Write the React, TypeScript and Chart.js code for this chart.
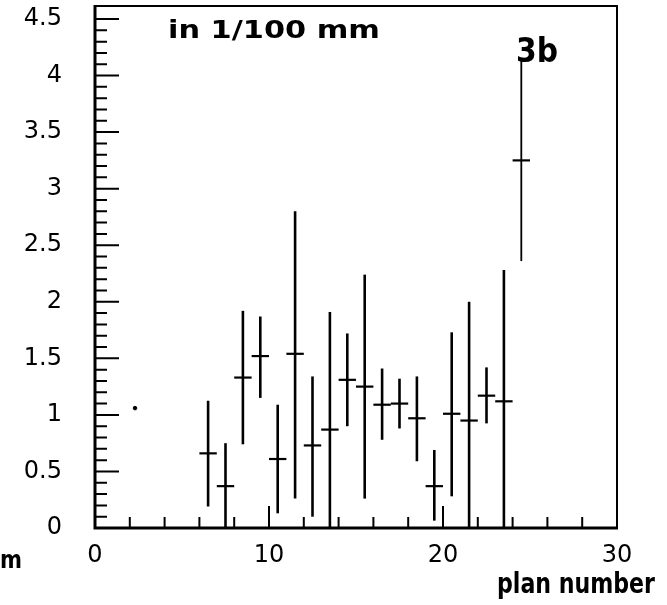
import React, { useEffect, useRef } from "react";
import { Chart, registerables } from "chart.js";

Chart.register(...registerables);

// ---- data ----
const PLAN = [6.5, 7.5, 8.5, 9.5, 10.5, 11.5, 12.5, 13.5, 14.5, 15.5, 16.5, 17.5, 18.5, 19.5, 20.5, 21.5, 22.5, 23.5, 24.5];
const VALUE = [0.66, 0.37, 1.33, 1.52, 0.61, 1.54, 0.73, 0.87, 1.31, 1.25, 1.09, 1.1, 0.97, 0.37, 1.01, 0.95, 1.17, 1.12, 3.25];
const LOW = [0.19, 0.0, 0.74, 1.15, 0.13, 0.26, 0.1, 0.0, 0.9, 0.26, 0.78, 0.88, 0.59, 0.065, 0.28, 0.0, 0.925, 0.0, 2.36];
const HIGH = [1.125, 0.75, 1.92, 1.87, 1.09, 2.8, 1.34, 1.91, 1.72, 2.24, 1.41, 1.32, 1.34, 0.69, 1.73, 2.0, 1.42, 2.28, 4.14];
const BIN_HALF = 0.5;
const SPECK_X = [2.3];
const SPECK_Y = [1.06];

const X_TICKS = [0, 10, 20, 30];
const X_MINOR = [2, 4, 6, 8, 12, 14, 16, 18, 22, 24, 26, 28];
const Y_TICKS = [0, 0.5, 1, 1.5, 2, 2.5, 3, 3.5, 4, 4.5];
const Y_MINOR = [0.1, 0.2, 0.3, 0.4, 0.6, 0.7, 0.8, 0.9, 1.1, 1.2, 1.3, 1.4, 1.6, 1.7, 1.8, 1.9, 2.1, 2.2, 2.3, 2.4, 2.6, 2.7, 2.8, 2.9, 3.1, 3.2, 3.3, 3.4, 3.6, 3.7, 3.8, 3.9, 4.1, 4.2, 4.3, 4.4];
const X_MIN = 0;
const X_MAX = 30;
const Y_MIN = 0;
const Y_MAX = 4.615;

const HAND = "'DejaVu Sans', sans-serif";

function fitText(ctx: CanvasRenderingContext2D, text: string, font: string, left: number, baseline: number, width: number) {
  ctx.save();
  ctx.font = font;
  ctx.textAlign = "left";
  ctx.textBaseline = "alphabetic";
  const w = ctx.measureText(text).width;
  ctx.translate(left, baseline);
  ctx.scale(width / w, 1);
  ctx.fillText(text, 0, 0);
  ctx.restore();
}

const framePlugin = {
  id: "frameAndBars",
  afterDatasetsDraw(chart: any) {
    const ctx: CanvasRenderingContext2D = chart.ctx;
    const xs = chart.scales.x;
    const ys = chart.scales.y;
    const { left, right, top, bottom } = chart.chartArea;
    ctx.save();
    ctx.strokeStyle = "#000";
    ctx.fillStyle = "#000";
    ctx.lineCap = "butt";

    // error bars
    for (let i = 0; i < PLAN.length; i++) {
      const cx = xs.getPixelForValue(PLAN[i]);
      const x0 = xs.getPixelForValue(PLAN[i] - BIN_HALF);
      const x1 = xs.getPixelForValue(PLAN[i] + BIN_HALF);
      const cy = ys.getPixelForValue(VALUE[i]);
      ctx.lineWidth = i === PLAN.length - 1 ? 1.8 : 2.6;
      ctx.beginPath();
      ctx.moveTo(cx, ys.getPixelForValue(LOW[i]));
      ctx.lineTo(cx, ys.getPixelForValue(HIGH[i]));
      ctx.stroke();
      ctx.lineWidth = 2.2;
      ctx.beginPath();
      ctx.moveTo(x0, cy);
      ctx.lineTo(x1, cy);
      ctx.stroke();
    }

    // frame
    ctx.lineWidth = 2;
    ctx.beginPath();
    ctx.moveTo(left, top);
    ctx.lineTo(right, top);
    ctx.lineTo(right, bottom);
    ctx.stroke();
    ctx.lineWidth = 3;
    ctx.beginPath();
    ctx.moveTo(left, top - 1);
    ctx.lineTo(left, bottom);
    ctx.lineTo(right + 1, bottom);
    ctx.stroke();

    // inward ticks
    ctx.lineWidth = 2;
    ctx.beginPath();
    for (const v of Y_TICKS) {
      const y = ys.getPixelForValue(v);
      ctx.moveTo(left, y);
      ctx.lineTo(left + 24, y);
    }
    for (const v of Y_MINOR) {
      const y = ys.getPixelForValue(v);
      ctx.moveTo(left, y);
      ctx.lineTo(left + 12, y);
    }
    for (const v of X_TICKS) {
      if (v === X_MIN || v === X_MAX) continue;
      const x = xs.getPixelForValue(v);
      ctx.moveTo(x, bottom);
      ctx.lineTo(x, bottom - 22);
    }
    for (const v of X_MINOR) {
      const x = xs.getPixelForValue(v);
      ctx.moveTo(x, bottom);
      ctx.lineTo(x, bottom - 11);
    }
    ctx.stroke();

    // handwritten annotations
    fitText(ctx, "in 1/100 mm", `bold 24px ${HAND}`, left + 73, top + 32, 212);
    fitText(ctx, "3b", `bold 34px ${HAND}`, left + 421, top + 56, 42);
    fitText(ctx, "plan number", `bold 28px ${HAND}`, 497, 593, 158);
    fitText(ctx, "m", `bold 24px ${HAND}`, 0, 568, 22);
    ctx.restore();
  },
};

export default function App() {
  const ref = useRef<HTMLCanvasElement | null>(null);
  useEffect(() => {
    if (!ref.current) return;
    const tickFont = { family: "'DejaVu Sans', sans-serif", size: 24 };
    const hiddenGrid = (len: number) => ({
      display: true,
      drawOnChartArea: false,
      drawTicks: true,
      tickLength: len,
      color: "rgba(0,0,0,0)",
    });
    const chart = new Chart(ref.current, {
      type: "scatter",
      data: {
        datasets: [
          {
            label: "sigma",
            data: PLAN.map((x, i) => ({ x, y: VALUE[i] })),
            pointRadius: 0,
            showLine: false,
          },
          {
            label: "speck",
            data: SPECK_X.map((x, i) => ({ x, y: SPECK_Y[i] })),
            pointRadius: 1.8,
            backgroundColor: "#000",
            borderColor: "#000",
            showLine: false,
          },
        ],
      },
      options: {
        animation: false,
        responsive: false,
        maintainAspectRatio: false,
        layout: { padding: { top: 6, right: 50, left: 0, bottom: 0 } },
        plugins: { legend: { display: false }, tooltip: { enabled: false } },
        scales: {
          x: {
            type: "linear",
            min: X_MIN,
            max: X_MAX,
            grid: hiddenGrid(13),
            border: { display: false },
            afterBuildTicks: (s: any) => {
              s.ticks = X_TICKS.map((v) => ({ value: v }));
            },
            afterFit: (s: any) => {
              s.height = 77;
              s.paddingLeft = 0;
              s.paddingRight = 0;
            },
            ticks: { color: "#000", font: tickFont, padding: 0, maxRotation: 0, autoSkip: false, callback: (v: any) => String(v) },
          },
          y: {
            type: "linear",
            min: Y_MIN,
            max: Y_MAX,
            grid: hiddenGrid(33),
            border: { display: false },
            afterBuildTicks: (s: any) => {
              s.ticks = Y_TICKS.map((v) => ({ value: v }));
            },
            afterFit: (s: any) => {
              s.width = 95;
              s.paddingTop = 0;
              s.paddingBottom = 0;
            },
            ticks: { color: "#000", font: tickFont, padding: 0, autoSkip: false, callback: (v: any) => String(v) },
          },
        },
      },
      plugins: [framePlugin],
    });
    return () => chart.destroy();
  }, []);
  return (
    <div style={{ position: "fixed", left: 0, top: 0, width: 667, height: 605, background: "#fff" }}>
      <canvas ref={ref} width={667} height={605} />
    </div>
  );
}
